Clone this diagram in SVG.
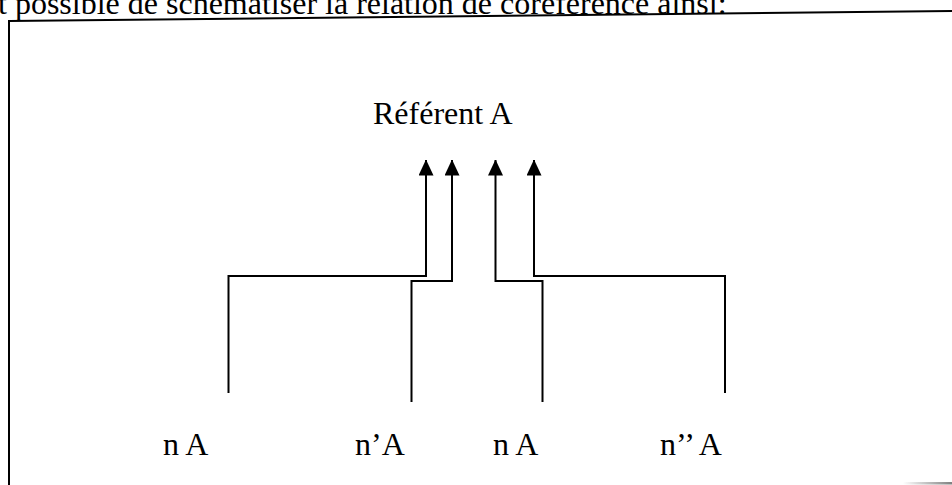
<svg xmlns="http://www.w3.org/2000/svg" width="952" height="485" viewBox="0 0 952 485">
<defs>
<marker id="arr" viewBox="0 0 16 15" refX="15.5" refY="7.5" markerWidth="16" markerHeight="15" markerUnits="userSpaceOnUse" orient="auto">
<path d="M0,0 L16,7.5 L0,15 Z" fill="#000"/>
</marker>
<linearGradient id="sh" x1="0" y1="0" x2="1" y2="0">
<stop offset="0" stop-color="#ffffff"/>
<stop offset="1" stop-color="#808080"/>
</linearGradient>
<style>
.t{font-family:"Liberation Serif","Times New Roman",serif;font-size:32px;fill:#000}
.c{fill:none;stroke:#000;stroke-width:2}
.f{fill:none;stroke:#000;stroke-width:2}
</style>
</defs>
<rect width="952" height="485" fill="#fff"/>
<text class="t" x="-2" y="14">t possible de schématiser la relation de coréférence ainsi:</text>
<g id="frame">
<line class="f" x1="9" y1="21" x2="952" y2="11"/>
<line class="f" x1="9" y1="20" x2="9" y2="485"/>
<rect x="903" y="482" width="49" height="2.5" fill="url(#sh)"/>
</g>
<g id="referent"><text class="t" x="373" y="124">Référent A</text></g>
<g id="n1"><text class="t" x="163" y="455">n A</text></g>
<g id="n2"><text class="t" x="355" y="455">n’A</text></g>
<g id="n3"><text class="t" x="493" y="455">n A</text></g>
<g id="n4"><text class="t" x="660" y="455">n’’ A</text></g>
<g id="connectors">
<polyline class="c" points="228.5,393 228.5,276 426,276 426,160" marker-end="url(#arr)"/>
<polyline class="c" points="411.5,402 411.5,281 452,281 452,160" marker-end="url(#arr)"/>
<polyline class="c" points="542.5,402 542.5,281 495.5,281 495.5,160" marker-end="url(#arr)"/>
<polyline class="c" points="725,393 725,276 534,276 534,160" marker-end="url(#arr)"/>
</g>
</svg>
